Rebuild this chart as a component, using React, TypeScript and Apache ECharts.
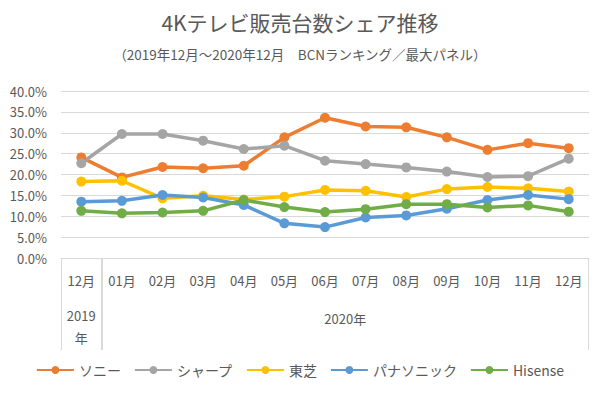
import React, { useEffect, useRef } from "react";
import * as echarts from "echarts";

const months = ["12月", "01月", "02月", "03月", "04月", "05月", "06月", "07月", "08月", "09月", "10月", "11月", "12月"];
const sony = [24.1, 19.3, 21.8, 21.5, 22.1, 28.9, 33.6, 31.5, 31.3, 28.9, 25.9, 27.5, 26.3];
const sharp = [22.7, 29.7, 29.7, 28.1, 26.1, 26.9, 23.3, 22.5, 21.7, 20.7, 19.4, 19.6, 23.8];
const toshiba = [18.3, 18.5, 14.3, 14.9, 14.0, 14.7, 16.3, 16.1, 14.6, 16.5, 17.0, 16.7, 15.9];
const panasonic = [13.5, 13.7, 15.1, 14.5, 12.7, 8.3, 7.4, 9.7, 10.2, 11.8, 13.9, 15.1, 14.1];
const hisense = [11.3, 10.7, 10.9, 11.3, 13.9, 12.2, 11.0, 11.7, 12.9, 12.9, 12.1, 12.6, 11.1];
const seriesNames = ["ソニー", "シャープ", "東芝", "パナソニック", "Hisense"];
const seriesData = [sony, sharp, toshiba, panasonic, hisense];
const colors = ["#ED7D31", "#A5A5A5", "#FFC000", "#5B9BD5", "#70AD47"];
const yearGroups = [
  { label: "2019\n年", from: 0, to: 0 },
  { label: "2020年", from: 1, to: 12 },
];

const FONT = '"Noto Sans CJK JP", "Noto Sans", sans-serif';
const TXT = "#595959";

export default function App() {
  const ref = useRef<HTMLDivElement>(null);
  useEffect(() => {
    if (!ref.current) return;
    document.body.style.margin = "0";
    const chart = echarts.init(ref.current, undefined, { renderer: "svg" });
    chart.setOption({
      animation: false,
      backgroundColor: "#ffffff",
      textStyle: { fontFamily: FONT },
      title: {
        text: "4Kテレビ販売台数シェア推移",
        subtext: "（2019年12月～2020年12月　BCNランキング／最大パネル）",
        left: "center",
        top: 6,
        itemGap: 15,
        textStyle: { fontFamily: FONT, fontSize: 21, fontWeight: "normal", color: TXT },
        subtextStyle: { fontFamily: FONT, fontSize: 13.5, color: TXT },
      },
      legend: {
        bottom: 17,
        left: "center",
        itemWidth: 37,
        itemHeight: 10,
        itemGap: 13,
        textStyle: { fontFamily: FONT, fontSize: 14, color: TXT },
        data: seriesNames,
      },
      grid: { left: 61, right: 11, top: 91, bottom: 141 },
      xAxis: {
        type: "category",
        data: months,
        boundaryGap: true,
        axisLine: { lineStyle: { color: "#D9D9D9" } },
        axisTick: { show: false },
        axisLabel: { fontFamily: FONT, fontSize: 13, color: TXT, margin: 16, interval: 0 },
      },
      yAxis: {
        type: "value",
        min: 0,
        max: 40,
        interval: 5,
        axisLine: { show: false },
        axisTick: { show: false },
        splitLine: { lineStyle: { color: "#D9D9D9", width: 1 } },
        axisLabel: {
          fontFamily: FONT,
          fontSize: 13,
          color: TXT,
          margin: 14,
          formatter: (v: number) => v.toFixed(1) + "%",
        },
      },
      series: seriesData.map((d, i) => ({
        name: seriesNames[i],
        type: "line",
        data: d,
        color: colors[i],
        symbol: "circle",
        symbolSize: 10,
        lineStyle: { width: 3.5, color: colors[i] },
        itemStyle: { color: colors[i] },
      })),
    });

    const half = (chart.convertToPixel({ xAxisIndex: 0 }, 1) as number) - (chart.convertToPixel({ xAxisIndex: 0 }, 0) as number);
    const y0 = chart.convertToPixel({ yAxisIndex: 0 }, 0) as number;
    const yBottom = y0 + 92;
    const lineStyle = { stroke: "#D9D9D9", lineWidth: 1 };
    const graphics: any[] = [];
    const boundaries = new Set<number>();
    yearGroups.forEach((g) => {
      const xs = chart.convertToPixel({ xAxisIndex: 0 }, g.from) as number;
      const xe = chart.convertToPixel({ xAxisIndex: 0 }, g.to) as number;
      const left = xs - half / 2;
      const right = xe + half / 2;
      boundaries.add(Math.round(left) + 0.5);
      boundaries.add(Math.round(right) - 0.5);
      const cx = (left + right) / 2;
      const lines = g.label.split("\n");
      lines.forEach((t, k) => {
        graphics.push({
          type: "text",
          x: cx,
          y: lines.length > 1 ? y0 + 57 + k * 22 : y0 + 60,
          style: {
            text: t,
            fill: TXT,
            font: `13px ${FONT}`,
            textAlign: "center",
            textVerticalAlign: "middle",
          },
        });
      });
    });
    boundaries.forEach((bx) => {
      graphics.push({
        type: "line",
        shape: { x1: bx, y1: y0, x2: bx, y2: yBottom },
        style: lineStyle,
      });
    });
    chart.setOption({ graphic: graphics });

    return () => chart.dispose();
  }, []);
  return <div ref={ref} style={{ width: 600, height: 399 }} />;
}
